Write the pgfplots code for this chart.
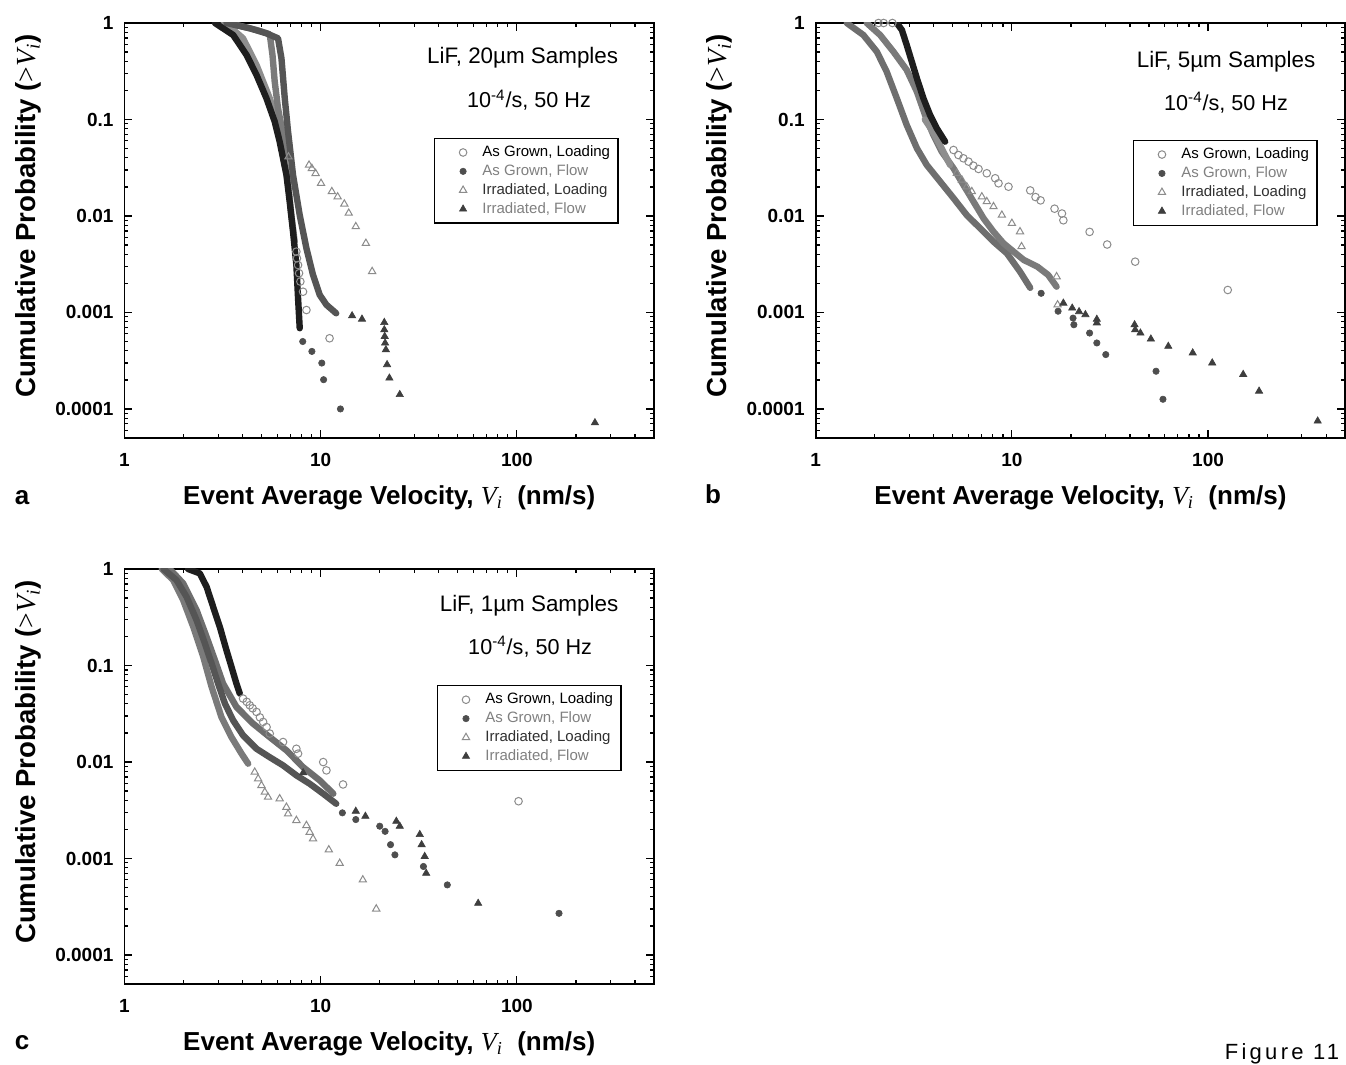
\documentclass[border=0pt]{standalone}
\usepackage{fontspec}
\setmainfont{Liberation Sans}
\newfontfamily\timesfont{Liberation Serif}
\newfontfamily\figfont[LetterSpace=15]{Liberation Sans}
\usepackage{pgfplots}
\pgfplotsset{compat=1.18}
\definecolor{openc}{HTML}{8C8C8C}
\definecolor{fillc}{HTML}{4E4E4E}
\definecolor{fillt}{HTML}{3E3E3E}
\definecolor{legg}{HTML}{808080}
\definecolor{legd}{HTML}{303030}
\definecolor{bblack}{HTML}{1E1E1E}
\definecolor{bdark}{HTML}{555555}
\definecolor{bmid}{HTML}{6E6E6E}
\definecolor{bmid2}{HTML}{7A7A7A}
\definecolor{blight}{HTML}{8E8E8E}
\newcommand{\Vi}{{\timesfont\itshape\mdseries V}\textsubscript{\timesfont\itshape\mdseries i}}
\pgfplotsset{
  legmark/.style={legend image code/.code={\path (0cm,0cm) (0.68cm,0cm); \draw[##1] plot coordinates {(0.42cm,0cm)};}},
  agl/.style={only marks, mark=o, mark size=1.9pt, color=openc, mark options={line width=0.5pt}, legmark},
  agf/.style={only marks, mark=*, mark size=1.6pt, color=fillc, mark options={line width=0.3pt}, legmark},
  irl/.style={only marks, mark=triangle, mark size=2.1pt, color=openc, mark options={line width=0.5pt}, legmark},
  irf/.style={only marks, mark=triangle*, mark size=2.1pt, color=fillt, mark options={line width=0.3pt}, legmark},
  band/.style={no markers, line width=3.2pt, line join=round, line cap=round, forget plot},
}
\newcommand{\lifaxis}[2]{\begin{axis}[
    xmode=log, ymode=log, xmin=1, xmax=500, ymin=5e-5, ymax=1,
    scale only axis, width=264.75pt, height=207.5pt, anchor=south west,
    at={#1},
    axis line style={line width=0.8pt},
    xtick={1,10,100}, xticklabels={1,10,100},
    ytick={0.0001,0.001,0.01,0.1,1}, yticklabels={0.0001,0.001,0.01,0.1,1},
    minor xtick={2,3,4,5,6,7,8,9,20,30,40,50,60,70,80,90,200,300,400},
    minor ytick={0.00006,0.00007,0.00008,0.00009,
      0.0002,0.0003,0.0004,0.0005,0.0006,0.0007,0.0008,0.0009,
      0.002,0.003,0.004,0.005,0.006,0.007,0.008,0.009,
      0.02,0.03,0.04,0.05,0.06,0.07,0.08,0.09,
      0.2,0.3,0.4,0.5,0.6,0.7,0.8,0.9},
    major tick length=4pt, minor tick length=2pt,
    tick style={black, line width=0.6pt},
    xtick pos=both, ytick pos=both, xticklabel pos=left, yticklabel pos=left,
    tick label style={font=\bfseries\fontsize{9.5}{11}\selectfont},
    xticklabel style={yshift=-4pt},
    yticklabel style={xshift=-2pt},
    xlabel={Event Average Velocity, \Vi\ \ (nm/s)},
    ylabel={Cumulative Probability ({\timesfont\mdseries >}\Vi)},
    xlabel style={font=\bfseries\fontsize{13}{15}\selectfont, at={(axis description cs:0.5,-0.1446)}, anchor=center},
    ylabel style={font=\bfseries\fontsize{13.8}{15}\selectfont, at={(axis description cs:-0.182,0.535)}, anchor=center},
    legend style={draw=black, line width=0.6pt, font=\fontsize{7.5}{9}\selectfont,
      at={#2}, anchor=north west, inner xsep=2pt, inner ysep=1.5pt, row sep=-1.5pt},
    legend cell align=left,
    clip mode=individual]}
\begin{document}
\begin{tikzpicture}
\fill[white] (0,0) rectangle (673pt,532.5pt);
\path[use as bounding box] (0,0) rectangle (673pt,532.5pt);

% ---------------- Panel a ----------------
\lifaxis{(62.25pt,313.5pt)}{(axis description cs:0.5845,0.723)}
\addplot[band, color=blight] coordinates {(3.2,1) (3.44,0.916) (4.02,0.694) (4.71,0.367) (5.50,0.166) (6.06,0.0877) (6.43,0.0503) (6.82,0.0227) (7.09,0.0102) (7.37,0.00542)};
\addplot[band, color=bmid2] coordinates {(3.4,1) (3.72,0.953) (4.71,0.846) (5.50,0.764) (5.68,0.466) (5.83,0.247) (6.06,0.131) (6.43,0.069) (6.82,0.0412)};
\addplot[band, color=bdark] coordinates {(3.31,1) (4.35,0.881) (5.29,0.782) (6.06,0.694) (6.31,0.431) (6.56,0.166) (6.82,0.0748) (7.23,0.0266) (7.82,0.0102) (8.46,0.00462) (9.14,0.00245) (9.89,0.00152) (10.7,0.0012) (12.0,0.00098)};
\addplot[band, color=bblack] coordinates {(2.89,1) (3.58,0.751) (4.19,0.466) (4.71,0.289) (5.29,0.166) (5.83,0.095) (6.18,0.0589) (6.69,0.0266) (6.95,0.0141) (7.23,0.00687) (7.52,0.0031) (7.67,0.0014) (7.82,0.000686)};
\addplot[agl] coordinates {(7.52,0.00427) (7.57,0.00364) (7.67,0.0031) (7.76,0.00255) (7.88,0.00209) (8.13,0.00164) (8.46,0.00106) (11.1,0.00054)};
\addplot[agf] coordinates {(8.1,0.0005) (9.02,0.000395) (10.13,0.000299) (10.35,0.000201) (12.61,0.0001)};
\addplot[irl] coordinates {(6.85,0.041) (8.72,0.0337) (9.02,0.0311) (9.42,0.0276) (10.04,0.0218) (11.4,0.0179) (12.2,0.0158) (13.2,0.0133) (13.9,0.0107) (15.1,0.00776) (17.0,0.00521) (18.3,0.00266)};
\addplot[irf] coordinates {(14.46,0.000924) (16.24,0.000853) (21.1,0.000788) (21.1,0.000662) (21.2,0.000565) (21.3,0.000482) (21.5,0.000411) (21.8,0.000288) (22.4,0.000209) (25.3,0.000141) (250,0.000072)};
\addlegendentry{As Grown, Loading}
\addlegendentry{\textcolor{legg}{As Grown, Flow}}
\addlegendentry{\textcolor{legd}{Irradiated, Loading}}
\addlegendentry{\textcolor{legg}{Irradiated, Flow}}
\node[font=\fontsize{11.2}{13}\selectfont] at (rel axis cs:0.752,0.916) {LiF, 20µm Samples};
\node[font=\fontsize{10.8}{12}\selectfont] at (rel axis cs:0.764,0.814) {10\textsuperscript{-4}/s, 50 Hz};
\end{axis}

% ---------------- Panel b ----------------
\lifaxis{(407.85pt,313.5pt)}{(axis description cs:0.599,0.718)}
\addplot[band, color=bmid] coordinates {(1.44,1) (1.75,0.751) (2.05,0.504) (2.30,0.313) (2.59,0.166) (2.91,0.0877) (3.28,0.0503) (3.68,0.0338) (4.31,0.0227) (5.04,0.0153) (5.89,0.0102) (6.89,0.00745) (8.06,0.00542) (9.43,0.0041) (11.0,0.00265) (12.4,0.0018)};
\addplot[band, color=bmid2] coordinates {(1.82,1) (2.13,0.751) (2.49,0.504) (2.91,0.326) (3.28,0.194) (3.61,0.111) (3.98,0.069) (4.39,0.0464) (5.04,0.0312) (5.66,0.021) (6.37,0.0141) (7.17,0.00946) (8.06,0.00687) (9.06,0.00521) (10.2,0.00427) (11.5,0.0035) (13.5,0.00298) (15.3,0.00245) (16.9,0.00185)};
\addplot[band, color=blight] coordinates {(3.6,0.1) (3.95,0.075) (4.35,0.052) (4.84,0.0338)};
\addplot[band, color=bblack] coordinates {(2.59,1) (2.75,0.846) (2.91,0.592) (3.09,0.397) (3.28,0.267) (3.54,0.166) (3.83,0.111) (4.14,0.0811) (4.57,0.0589)};
\addplot[agl] coordinates {(2.09,1) (2.22,1) (2.46,1) (5.04,0.0483) (5.34,0.0428) (5.66,0.0396) (6.01,0.0366) (6.37,0.0332) (6.76,0.0307) (7.45,0.0277) (8.22,0.0246) (8.55,0.0218) (9.61,0.0201) (12.4,0.0184) (13.2,0.0157) (14.0,0.0145) (16.5,0.0119) (18.0,0.0106) (18.3,0.00902) (24.9,0.00684) (30.6,0.00506) (42.5,0.00336) (126,0.00171)};
\addplot[agf] coordinates {(14.1,0.00158) (17.2,0.00103) (20.5,0.000874) (20.7,0.000746) (24.9,0.000612) (27.1,0.000483) (30.1,0.000366) (54.3,0.000246) (58.9,0.000126)};
\addplot[irl] coordinates {(5.24,0.0277) (5.56,0.0236) (5.89,0.0201) (6.25,0.0179) (7.03,0.0158) (7.45,0.0141) (8.06,0.0125) (8.89,0.0102) (10.0,0.0084) (11.0,0.00687) (11.2,0.00481) (16.9,0.00235) (17.1,0.0012)};
\addplot[irf] coordinates {(18.3,0.00125) (20.3,0.00111) (22.0,0.00102) (23.7,0.00095) (27.1,0.00085) (27.1,0.00078) (42.2,0.000746) (42.5,0.000662) (45.2,0.000612) (51.1,0.000531) (62.7,0.000446) (83.5,0.000381) (105,0.0003) (151,0.000228) (182,0.000153) (362,0.000075)};
\addlegendentry{As Grown, Loading}
\addlegendentry{\textcolor{legg}{As Grown, Flow}}
\addlegendentry{\textcolor{legd}{Irradiated, Loading}}
\addlegendentry{\textcolor{legg}{Irradiated, Flow}}
\node[font=\fontsize{11.2}{13}\selectfont] at (rel axis cs:0.775,0.906) {LiF, 5µm Samples};
\node[font=\fontsize{10.8}{12}\selectfont] at (rel axis cs:0.775,0.807) {10\textsuperscript{-4}/s, 50 Hz};
\end{axis}

% ---------------- Panel c ----------------
\lifaxis{(62.25pt,40.5pt)}{(axis description cs:0.59,0.720)}
\addplot[band, color=bmid2] coordinates {(1.55,1) (1.77,0.769) (1.99,0.477) (2.24,0.252) (2.52,0.123) (2.78,0.060) (3.12,0.0292) (3.51,0.0181) (3.95,0.0122) (4.27,0.0096)};
\addplot[band, color=bmid] coordinates {(1.70,1) (1.99,0.71) (2.33,0.375) (2.62,0.198) (2.89,0.1135) (3.18,0.065) (3.72,0.0372) (4.52,0.025) (5.50,0.0181) (6.69,0.0132) (8.13,0.00885) (9.89,0.00644) (11.6,0.00469)};
\addplot[band, color=bdark] coordinates {(1.58,1) (1.84,0.769) (2.07,0.516) (2.33,0.295) (2.57,0.169) (2.78,0.105) (3.00,0.065) (3.25,0.0403) (3.58,0.027) (4.02,0.0189) (4.71,0.0137) (5.50,0.0112) (6.43,0.00922) (7.52,0.00726) (8.79,0.00595) (10.3,0.00469) (12.0,0.00369)};
\addplot[band, color=bblack] coordinates {(2.11,1) (2.42,0.90) (2.62,0.655) (2.83,0.406) (3.06,0.252) (3.31,0.144) (3.51,0.0968) (3.72,0.065) (3.87,0.0512)};
\addplot[agl] coordinates {(4.02,0.0454) (4.2,0.042) (4.35,0.0387) (4.5,0.036) (4.71,0.033) (4.9,0.029) (5.09,0.026) (5.3,0.023) (5.50,0.0197) (6.43,0.0161) (7.52,0.0137) (7.67,0.0122) (10.3,0.00998) (10.7,0.00818) (13.0,0.00585) (102,0.00392)};
\addplot[agf] coordinates {(12.9,0.00297) (15.1,0.00253) (20.0,0.00216) (21.3,0.00191) (22.7,0.00139) (23.9,0.00109) (33.4,0.000826) (44.2,0.000532) (164,0.00027)};
\addplot[irl] coordinates {(4.61,0.00785) (4.80,0.0067) (4.99,0.00571) (5.19,0.00487) (5.39,0.00432) (6.18,0.00416) (6.69,0.0034) (6.82,0.0029) (7.52,0.00248) (8.46,0.0022) (8.79,0.00187) (9.14,0.0016) (11.0,0.00123) (12.5,0.00089) (16.4,0.0006) (19.2,0.0003)};
\addplot[irf] coordinates {(8.14,0.00774) (15.1,0.00309) (16.9,0.00274) (24.3,0.00243) (25.3,0.00216) (32.0,0.00177) (32.7,0.00139) (33.9,0.00105) (34.5,0.000703) (63.5,0.000343)};
\addlegendentry{As Grown, Loading}
\addlegendentry{\textcolor{legg}{As Grown, Flow}}
\addlegendentry{\textcolor{legd}{Irradiated, Loading}}
\addlegendentry{\textcolor{legg}{Irradiated, Flow}}
\node[font=\fontsize{11.2}{13}\selectfont] at (rel axis cs:0.764,0.911) {LiF, 1µm Samples};
\node[font=\fontsize{10.8}{12}\selectfont] at (rel axis cs:0.766,0.812) {10\textsuperscript{-4}/s, 50 Hz};
\end{axis}

\node[font=\bfseries\fontsize{13}{15}\selectfont] at (11pt,283.5pt) {a};
\node[font=\bfseries\fontsize{13}{15}\selectfont] at (356.5pt,285.5pt) {b};
\node[font=\bfseries\fontsize{13}{15}\selectfont] at (11pt,11pt) {c};
\node[font=\figfont\fontsize{11}{13}\selectfont] at (641pt,5.5pt) {Figure 11};
\end{tikzpicture}
\end{document}
